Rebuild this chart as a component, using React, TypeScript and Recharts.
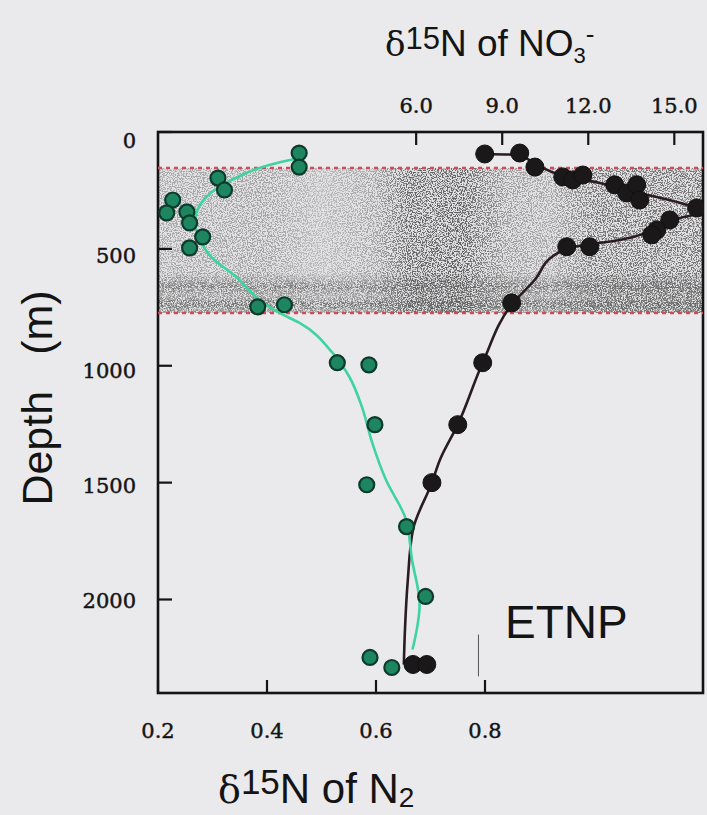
import React from 'react';
import { ScatterChart, Scatter, XAxis, YAxis, ReferenceArea, ReferenceLine, Label } from 'recharts';

// ---- data ----
// δ15N of N2 (bottom axis) observations
const n2ObsValue = [0.459, 0.459, 0.31, 0.322, 0.227, 0.216, 0.253, 0.258, 0.282, 0.258, 0.383, 0.432, 0.529, 0.587, 0.598, 0.583, 0.656, 0.691, 0.589, 0.629];
const n2ObsDepth = [90, 150, 197, 248, 291, 346, 342, 389, 449, 496, 748, 739, 987, 996, 1252, 1509, 1688, 1987, 2248, 2291];
// δ15N of N2 fitted curve
const n2FitValue = [0.459, 0.404, 0.35, 0.304, 0.277, 0.268, 0.277, 0.299, 0.344, 0.386, 0.423, 0.459, 0.52, 0.551, 0.574, 0.593, 0.618, 0.655, 0.666, 0.68, 0.667];
const n2FitDepth = [111, 141, 188, 248, 312, 385, 462, 538, 620, 718, 774, 816, 944, 1047, 1175, 1329, 1487, 1658, 1829, 2021, 2214];
// δ15N of NO3- (top axis) observations
const no3ObsValue = [8.39, 9.61, 10.14, 11.11, 11.46, 11.81, 12.92, 13.34, 13.69, 13.79, 15.78, 14.84, 14.39, 14.21, 12.05, 11.25, 9.33, 8.32, 7.45, 6.55, 5.89, 6.37];
const no3ObsDepth = [94, 90, 150, 192, 205, 184, 226, 261, 226, 291, 325, 376, 419, 440, 491, 491, 731, 987, 1252, 1500, 2278, 2278];
// δ15N of NO3- fitted curve
const no3FitValue = [8.39, 9.61, 10.14, 11.18, 12.4, 13.79, 15.19, 15.99, 15.19, 14.32, 13.1, 11.7, 10.83, 10.14, 9.33, 8.32, 7.45, 6.83, 6.55, 5.89, 5.71, 5.61, 5.57];
const no3FitDepth = [94, 98, 137, 188, 218, 261, 303, 342, 368, 419, 462, 487, 526, 632, 739, 987, 1252, 1402, 1500, 1701, 1915, 2128, 2278];

const n2Ticks = [0.2, 0.4, 0.6, 0.8];
const no3Ticks = [6, 9, 12, 15];
const depthTicks = [0, 500, 1000, 1500, 2000];
const n2Domain = [0.2, 1.2];
const no3Domain = [-3, 16];
const depthDomain = [0, 2400];
const omzDepth = [154, 774];
const markerLine = { v: 0.788, d: [2150, 2329] };

const zip = (vs: number[], ds: number[]) => vs.map((v, i) => ({ v, d: ds[i] }));
const n2Obs = zip(n2ObsValue, n2ObsDepth);
const n2Fit = zip(n2FitValue, n2FitDepth);
const no3Obs = zip(no3ObsValue, no3ObsDepth);
const no3Fit = zip(no3FitValue, no3FitDepth);

const SERIF = '"DejaVu Serif", "Liberation Serif", serif';
const SANS = '"Liberation Sans", Arial, sans-serif';
const INK = '#141414';

const fmt1 = (v: number) => v.toFixed(1);

// Recharts puts a tick's label anchor 8px inside the frame (tickSize -8, tickMargin 0)
const BottomTick = (p: any) => (
  <g>
    <path d={`M${p.x},${p.y + 8}V${p.y - 5}`} stroke={INK} strokeWidth={2.2} fill="none" />
    <text x={p.x} y={p.y + 53} textAnchor="middle" fontFamily={SERIF} fontSize={21} fill={INK} stroke={INK} strokeWidth={0.45}>
      {fmt1(p.payload.value)}
    </text>
  </g>
);
const TopTick = (p: any) => (
  <g>
    <path d={`M${p.x},${p.y - 8}V${p.y + 5}`} stroke={INK} strokeWidth={2.2} fill="none" />
    <text x={p.x} y={p.y - 27} textAnchor="middle" fontFamily={SERIF} fontSize={21} fill={INK} stroke={INK} strokeWidth={0.45}>
      {fmt1(p.payload.value)}
    </text>
  </g>
);
const LeftTick = (p: any) => (
  <g>
    <path d={`M${p.x - 8},${p.y}H${p.x + 6}`} stroke={INK} strokeWidth={2.2} fill="none" />
    <text x={p.x - 30} y={p.y + 16 - (p.payload.value / 2000) * 8} textAnchor="end" fontFamily={SERIF} fontSize={21} fill={INK} stroke={INK} strokeWidth={0.45}>
      {p.payload.value}
    </text>
  </g>
);

const GreenDot = (p: any) => (
  <circle cx={p.cx} cy={p.cy} r={7.5} fill="#1d8560" stroke="#0d3a2b" strokeWidth={2.2} />
);
const BlackDot = (p: any) => (
  <circle cx={p.cx} cy={p.cy} r={9} fill="#1b181a" stroke="#111" strokeWidth={1} />
);
const NoDot = () => <g />;

const Shade = (p: any) => (
  <g>
    <defs>
      <linearGradient id="omzGrad" x1="0" y1="0" x2="1" y2="0">
        <stop offset="0" stopColor="#000" stopOpacity={0.45} />
        <stop offset="0.2" stopColor="#000" stopOpacity={0.5} />
        <stop offset="0.3" stopColor="#000" stopOpacity={0.3} />
        <stop offset="0.4" stopColor="#000" stopOpacity={0.5} />
        <stop offset="0.46" stopColor="#000" stopOpacity={0.95} />
        <stop offset="0.56" stopColor="#000" stopOpacity={1} />
        <stop offset="0.64" stopColor="#000" stopOpacity={0.55} />
        <stop offset="0.72" stopColor="#000" stopOpacity={0.45} />
        <stop offset="0.8" stopColor="#000" stopOpacity={0.85} />
        <stop offset="1" stopColor="#000" stopOpacity={0.85} />
      </linearGradient>
      <linearGradient id="omzBand" x1="0" y1="0" x2="0" y2="1">
        <stop offset="0" stopColor="#000" stopOpacity={0} />
        <stop offset="0.72" stopColor="#000" stopOpacity={0} />
        <stop offset="0.82" stopColor="#000" stopOpacity={0.7} />
        <stop offset="0.88" stopColor="#000" stopOpacity={0.3} />
        <stop offset="0.94" stopColor="#000" stopOpacity={0.8} />
        <stop offset="1" stopColor="#000" stopOpacity={0.4} />
      </linearGradient>
      <filter id="grain" x="0" y="0" width="1" height="1">
        <feTurbulence type="fractalNoise" baseFrequency="0.8" numOctaves="2" seed="5" result="n" />
        <feColorMatrix in="n" type="matrix" values="0 0 0 0 0.12  0 0 0 0 0.12  0 0 0 0 0.12  -8 0 0 0 4.3" result="d" />
        <feComposite in="d" in2="SourceGraphic" operator="in" />
      </filter>
      <filter id="grain2" x="0" y="0" width="1" height="1">
        <feTurbulence type="fractalNoise" baseFrequency="0.7 1.4" numOctaves="2" seed="11" result="n" />
        <feColorMatrix in="n" type="matrix" values="0 0 0 0 0.1  0 0 0 0 0.1  0 0 0 0 0.1  -8 0 0 0 4.3" result="d" />
        <feComposite in="d" in2="SourceGraphic" operator="in" />
      </filter>
    </defs>
    <rect x={p.x} y={p.y} width={p.width} height={p.height} fill="#9a9a9a" fillOpacity={0.1} />
    <rect x={p.x} y={p.y} width={p.width} height={p.height} fill="url(#omzGrad)" filter="url(#grain)" />
    <rect x={p.x} y={p.y} width={p.width} height={p.height} fill="url(#omzBand)" filter="url(#grain2)" />
  </g>
);

const Frame = (p: any) => (
  <rect x={p.x} y={p.y} width={p.width} height={p.height} fill="none" stroke={INK} strokeWidth={2.6} />
);

const TopTitle = () => (
  <text x={385} y={56} fontFamily={SANS} fontSize={37} fill={INK}>
    <tspan fontFamily={SERIF} fontSize={34}>δ</tspan>
    <tspan fontSize={31} dy={-7}>15</tspan>
    <tspan dy={7}>N of NO</tspan>
    <tspan fontSize={22} dy={7}>3</tspan>
    <tspan fontSize={26} dy={-20}>-</tspan>
  </text>
);

const BottomTitle = () => (
  <text x={218} y={803} fontFamily={SANS} fontSize={42} fill={INK}>
    <tspan fontFamily={SERIF} fontSize={38}>δ</tspan>
    <tspan fontSize={35} dy={-9}>15</tspan>
    <tspan dy={9}>N of N</tspan>
    <tspan fontSize={28} dy={4}>2</tspan>
  </text>
);

const DepthTitle = () => (
  <text transform="translate(52,398) rotate(-90)" textAnchor="middle" fontFamily={SANS} fontSize={43} fill={INK}>
    <tspan>Depth</tspan>
    <tspan dx={36}>(m)</tspan>
  </text>
);

const EtnpLabel = () => (
  <text x={505} y={638} fontFamily={SANS} fontSize={46} fill={INK}>
    ETNP
  </text>
);

export default function App() {
  return (
    <div style={{ position: 'absolute', left: 0, top: 0, width: 707, height: 815, background: '#eaeaed', overflow: 'hidden' }}>
      <ScatterChart width={707} height={815} margin={{ top: 102, right: 4, bottom: 92, left: 98 }}>
        <ReferenceArea xAxisId="n2" x1={n2Domain[0]} x2={n2Domain[1]} y1={omzDepth[0]} y2={omzDepth[1]} shape={Shade} ifOverflow="visible" />
        <ReferenceLine xAxisId="n2" y={omzDepth[0]} stroke="#d24a58" strokeWidth={2.5} strokeDasharray="4 4" />
        <ReferenceLine xAxisId="n2" y={omzDepth[1]} stroke="#d24a58" strokeWidth={2.5} strokeDasharray="4 4" />
        <ReferenceLine
          xAxisId="n2"
          segment={[{ x: markerLine.v, y: markerLine.d[0] }, { x: markerLine.v, y: markerLine.d[1] }]}
          stroke="#555"
          strokeWidth={1}
        >
          <Label content={EtnpLabel} />
        </ReferenceLine>

        <Scatter xAxisId="no3" data={no3Fit} shape={NoDot} line={{ stroke: '#2a1c22', strokeWidth: 2.6 }} lineJointType="monotoneY" isAnimationActive={false} />
        <Scatter xAxisId="n2" data={n2Fit} shape={NoDot} line={{ stroke: '#3fd3a0', strokeWidth: 2.6 }} lineJointType="monotoneY" isAnimationActive={false} />
        <Scatter xAxisId="no3" data={no3Obs} shape={BlackDot} isAnimationActive={false} />
        <Scatter xAxisId="n2" data={n2Obs} shape={GreenDot} isAnimationActive={false} />

        <ReferenceArea xAxisId="n2" x1={n2Domain[0]} x2={n2Domain[1]} y1={depthDomain[0]} y2={depthDomain[1]} shape={Frame} ifOverflow="visible" />

        <XAxis
          xAxisId="n2"
          type="number"
          dataKey="v"
          orientation="bottom"
          domain={n2Domain}
          ticks={n2Ticks}
          allowDataOverflow
          height={30}
          axisLine={false}
          tickSize={-8}
          tickMargin={0}
          tickLine={false}
          tick={<BottomTick />}
        >
          <Label content={BottomTitle} />
        </XAxis>
        <XAxis
          xAxisId="no3"
          type="number"
          dataKey="v"
          orientation="top"
          domain={no3Domain}
          ticks={no3Ticks}
          allowDataOverflow
          height={30}
          axisLine={false}
          tickSize={-8}
          tickMargin={0}
          tickLine={false}
          tick={<TopTick />}
        >
          <Label content={TopTitle} />
        </XAxis>
        <YAxis
          type="number"
          dataKey="d"
          domain={depthDomain}
          ticks={depthTicks}
          reversed
          allowDataOverflow
          width={60}
          axisLine={false}
          tickSize={-8}
          tickMargin={0}
          tickLine={false}
          tick={<LeftTick />}
        >
          <Label content={DepthTitle} />
        </YAxis>
      </ScatterChart>
    </div>
  );
}
